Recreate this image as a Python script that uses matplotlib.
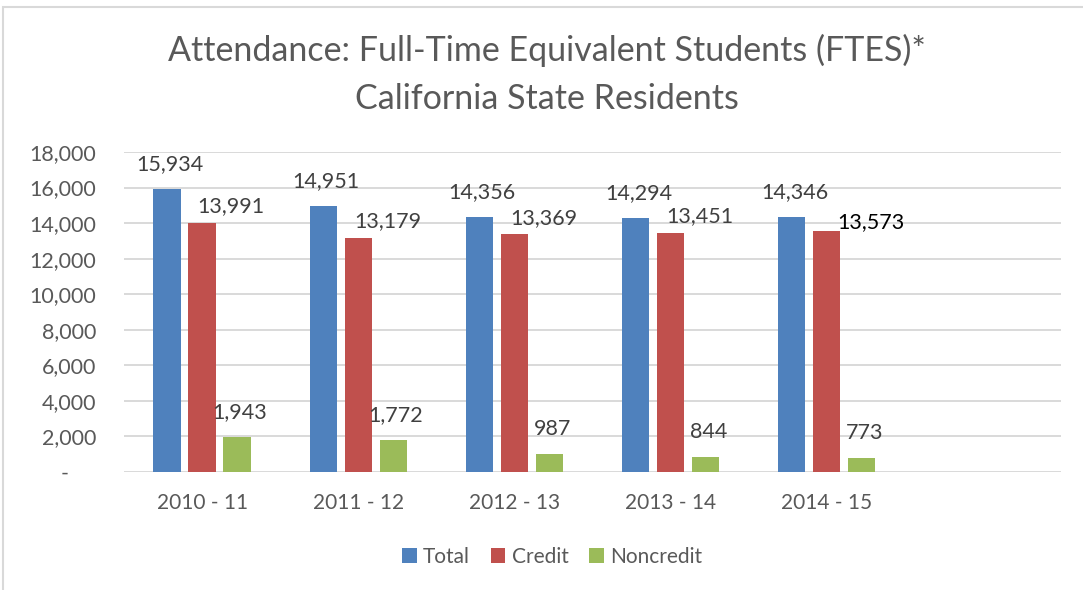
import matplotlib
matplotlib.use('Agg')
import matplotlib.pyplot as plt
from matplotlib.ticker import FuncFormatter
from matplotlib.patches import Rectangle
import numpy as np

years = ['2010 - 11', '2011 - 12', '2012 - 13', '2013 - 14', '2014 - 15']
total = [15934, 14951, 14356, 14294, 14346]
credit = [13991, 13179, 13369, 13451, 13573]
noncredit = [1943, 1772, 987, 844, 773]

plt.rcParams['font.family'] = ['Lato', 'DejaVu Sans']

fig = plt.figure(figsize=(10.83, 5.9), dpi=100)
ax = fig.add_axes([0.1145, 0.2, 0.8652, 0.5424])

x = np.arange(len(years))
w = 0.175
step = 0.224
series = [('Total', total, '#4F81BD', (2, 18)),
          ('Credit', credit, '#C0504D', (21, 12)),
          ('Noncredit', noncredit, '#9BBB59', (2, 18))]

for i, (name, vals, col, off) in enumerate(series):
    xs = x + (i - 1) * step
    ax.bar(xs, vals, w, color=col, label=name, zorder=3)
    for j, (xx, v) in enumerate(zip(xs, vals)):
        o, c = off, '#404040'
        if name == 'Credit' and j == len(vals) - 1:
            o, c = (32, 6), 'black'
        ax.annotate('{:,}'.format(v), (xx, v), xytext=o, textcoords='offset points',
                    ha='center', va='center', fontsize=15.5, color=c)

ax.set_xlim(-0.5, 5.5)
ax.set_ylim(0, 18000)
ax.set_yticks(range(0, 18001, 2000))
ax.yaxis.set_major_formatter(FuncFormatter(lambda v, p: '-     ' if v == 0 else '{:,.0f}'.format(v)))
ax.set_xticks(x)
ax.set_xticklabels(years)
ax.tick_params(axis='both', length=0, labelsize=15.5, labelcolor='#595959')
ax.tick_params(axis='x', labelsize=15, pad=15)
ax.tick_params(axis='y', pad=20)
ax.grid(axis='y', color='#D9D9D9', linewidth=1.4, zorder=0)
for s in ax.spines.values():
    s.set_visible(False)

fig.text(0.505, 0.915, 'Attendance: Full-Time Equivalent Students (FTES)*',
         ha='center', va='center', fontsize=24.5, color='#595959')
fig.text(0.505, 0.832, 'California State Residents',
         ha='center', va='center', fontsize=24.5, color='#595959')

fig.legend(loc='center', bbox_to_anchor=(0.51, 0.056), ncol=3, frameon=False,
           fontsize=15, handlelength=0.7, handleheight=0.7, handletextpad=0.3,
           columnspacing=1.0, labelcolor='#595959')

fig.patches.append(Rectangle((3 / 1083, -0.1), 1.2, 1 - 7 / 590 + 0.1,
                             transform=fig.transFigure, fill=False,
                             edgecolor='#D9D9D9', linewidth=1.5))

fig.savefig('out.png', dpi=100)
